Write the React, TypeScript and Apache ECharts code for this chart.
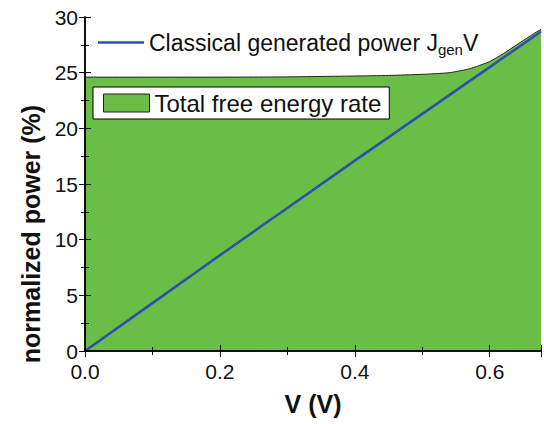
import React, { useEffect, useRef } from "react";
import * as echarts from "echarts";

const vArea = [0, 0.1, 0.2, 0.3, 0.4, 0.45, 0.5, 0.54, 0.57, 0.6, 0.62, 0.64, 0.66, 0.676];
const freeEnergy = [24.6, 24.6, 24.6, 24.62, 24.7, 24.75, 24.85, 25.0, 25.35, 26.0, 26.7, 27.5, 28.3, 28.9];

const vLine = [0, 0.1, 0.2, 0.3, 0.4, 0.5, 0.6, 0.676];
const classicalPower = [0, 4.3, 8.6, 12.85, 17.1, 21.3, 25.5, 28.7];

const xTickLabels = ["0.0", "0.2", "0.4", "0.6"];

const FONT = "'Liberation Sans', Arial, sans-serif";
const GREEN = "#6abd45";
const BLUE = "#2f4fb0";

export default function App() {
  const ref = useRef<HTMLDivElement>(null);
  useEffect(() => {
    if (!ref.current) return;
    const chart = echarts.init(ref.current, undefined, { renderer: "svg" });
    const xMax = 0.676;
    const axisLine = { show: true, lineStyle: { color: "#000", width: 1.5 } };
    const tick = { show: true, inside: true, length: 6, lineStyle: { color: "#000", width: 1 } };
    const minor = { show: true, splitNumber: 2, length: 4, lineStyle: { color: "#000", width: 1 } };
    chart.setOption({
      animation: false,
      backgroundColor: "#fff",
      grid: { left: 85, right: 3, top: 17, bottom: 73 },
      legend: [
        {
          data: ["Classical generated power J_gen V"],
          left: 96,
          top: 29,
          icon: "rect",
          itemWidth: 46,
          itemHeight: 2.5,
          itemGap: 4,
          padding: 2,
          textStyle: {
            fontFamily: FONT,
            fontSize: 23,
            color: "#111",
            rich: {
              main: { fontFamily: FONT, fontSize: 23, color: "#111" },
              sub: { fontFamily: FONT, fontSize: 15, color: "#111", padding: [14, 0, 0, 0] },
            },
          },
          formatter: () => "{main|Classical generated power J}{sub|gen}{main|V}",
        },
        {
          data: ["Total free energy rate"],
          left: 93,
          top: 87,
          icon: "rect",
          itemWidth: 46,
          itemHeight: 18,
          itemGap: 8,
          backgroundColor: "#fff",
          borderColor: "#000",
          borderWidth: 1,
          borderRadius: 0,
          padding: [4, 8, 4, 10],
          itemStyle: { color: GREEN, borderColor: "#222", borderWidth: 1 },
          textStyle: { fontFamily: FONT, fontSize: 24, color: "#111" },
        },
      ],
      xAxis: [
        {
          type: "value",
          min: 0,
          max: xMax,
          interval: 0.2,
          name: "V (V)",
          nameLocation: "middle",
          nameGap: 40,
          nameTextStyle: { fontFamily: FONT, fontSize: 25, fontWeight: "bold", color: "#111" },
          axisLine,
          axisTick: tick,
          minorTick: minor,
          splitLine: { show: false },
          axisLabel: {
            show: true,
            margin: 10,
            fontFamily: FONT,
            fontSize: 21,
            color: "#111",
            showMaxLabel: false,
            formatter: (v: number) => {
              const idx = Math.round(v / 0.2);
              return Math.abs(v - idx * 0.2) < 1e-6 && idx < xTickLabels.length ? xTickLabels[idx] : "";
            },
          },
          z: 10,
        },
        {
          type: "value",
          position: "top",
          min: 0,
          max: xMax,
          interval: 0.2,
          axisLine,
          axisTick: tick,
          minorTick: minor,
          splitLine: { show: false },
          axisLabel: { show: false },
          z: 10,
        },
      ],
      yAxis: [
        {
          type: "value",
          min: 0,
          max: 30,
          interval: 5,
          name: "normalized power (%)",
          nameLocation: "middle",
          nameGap: 40,
          nameTextStyle: {
            fontFamily: FONT,
            fontSize: 25,
            fontWeight: "bold",
            color: "#111",
            padding: [0, 100, 0, 0],
          },
          axisLine,
          axisTick: tick,
          minorTick: minor,
          splitLine: { show: false },
          axisLabel: { margin: 7, fontFamily: FONT, fontSize: 21, color: "#111" },
          z: 10,
        },
        {
          type: "value",
          position: "right",
          min: 0,
          max: 30,
          interval: 5,
          axisLine,
          axisTick: tick,
          minorTick: minor,
          splitLine: { show: false },
          axisLabel: { show: false },
          z: 10,
        },
      ],
      series: [
        {
          name: "Total free energy rate",
          type: "line",
          data: vArea.map((v, i) => [v, freeEnergy[i]]),
          smooth: 0.2,
          symbol: "none",
          lineStyle: { color: "#222", width: 1 },
          itemStyle: { color: GREEN },
          areaStyle: { color: GREEN, opacity: 1 },
          z: 1,
        },
        {
          name: "Classical generated power J_gen V",
          type: "line",
          data: vLine.map((v, i) => [v, classicalPower[i]]),
          symbol: "none",
          lineStyle: { color: BLUE, width: 2.5 },
          itemStyle: { color: BLUE },
          z: 2,
        },
      ],
    });
    return () => chart.dispose();
  }, []);
  return <div ref={ref} style={{ width: 544, height: 424, position: "absolute", left: 0, top: 0 }} />;
}
